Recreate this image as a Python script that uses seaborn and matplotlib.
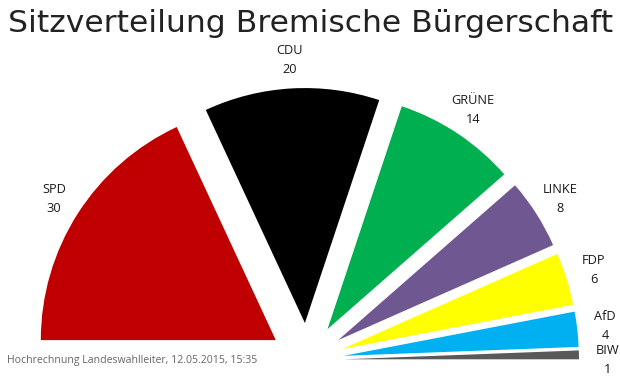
import matplotlib
matplotlib.use("Agg")
import matplotlib.pyplot as plt
import seaborn as sns
import numpy as np

parties = ["SPD", "CDU", "GRÜNE", "LINKE", "FDP", "AfD", "BIW"]
seats = [30, 20, 14, 8, 6, 4, 1]
colors = ["#C00000", "#000000", "#00B050", "#6F5791", "#FFFF00", "#00B0F0", "#595959"]
title = "Sitzverteilung Bremische Bürgerschaft"
footer = "Hochrechnung Landeswahlleiter, 12.05.2015, 15:35"

sns.set_theme(style="white")
plt.rcParams["font.family"] = ["Open Sans", "DejaVu Sans"]

W, H = 620, 380
fig = plt.figure(figsize=(W / 100, H / 100), dpi=100)
ax = fig.add_axes([0, 0, 1, 1])

total = sum(seats)
cx, cy = 307, H - 360
radius = 235
offset = 37

vals = seats + [total]
wedges, _ = ax.pie(
    vals,
    colors=colors + ["none"],
    startangle=180,
    counterclock=False,
    explode=[offset] * len(seats) + [0],
    radius=radius,
    center=(cx, cy),
    wedgeprops=dict(linewidth=0),
    frame=True,
)
wedges[-1].set_visible(False)

for w, name, s in zip(wedges[:-1], parties, seats):
    tm = np.deg2rad((w.theta1 + w.theta2) / 2)
    lx = w.center[0] + radius * 1.12 * np.cos(tm)
    ly = w.center[1] + radius * 1.12 * np.sin(tm)
    if name == "BIW":
        ly -= 6
    ax.text(lx, ly, f"{name}\n{s}", ha="center", va="center",
            fontsize=9.2, color="#1a1a1a", linespacing=1.6)

ax.text(W / 2 + 1, H - 24, title, ha="center", va="center", fontsize=22.6,
        color="#222222", family="DejaVu Sans")
ax.text(7, H - 361, footer, ha="left", va="center", fontsize=7.6,
        color="#666666")

ax.set_xlim(0, W)
ax.set_ylim(0, H)
ax.set_aspect("equal")
ax.axis("off")
fig.savefig("out.png", dpi=100)
